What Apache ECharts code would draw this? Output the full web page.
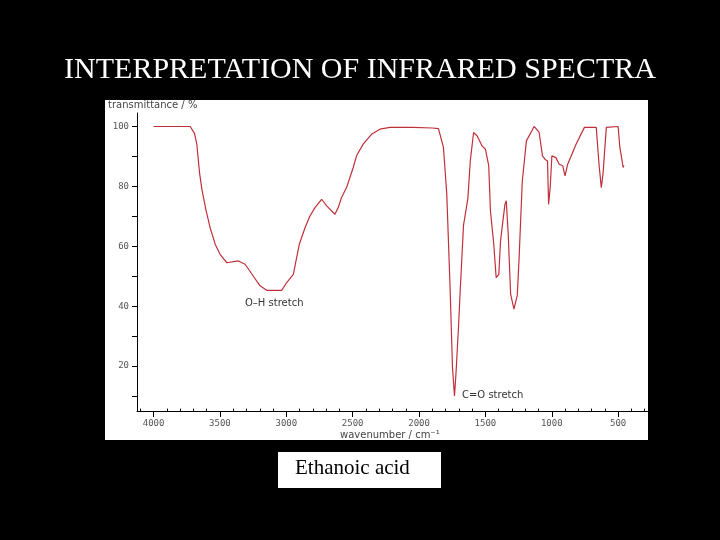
<!DOCTYPE html>
<html><head><meta charset="utf-8">
<script src="https://cdn.jsdelivr.net/npm/echarts@6/dist/echarts.min.js"></script>
<style>html,body{margin:0;background:#000;}#c{width:720px;height:540px;}</style>
</head><body><div id="c"></div>
<script>
const wavenumbers = [4000,3724,3692,3674,3654,3636,3604,3574,3536,3499,3448,3361,3311,3248,3198,3148,3035,2997,2947,2902,2859,2822,2784,2734,2696,2634,2609,2584,2546,2496,2471,2421,2358,2295,2220,2145,2045,1900,1854,1816,1791,1766,1748,1733,1721,1703,1690,1665,1632,1614,1589,1563,1525,1500,1475,1462,1437,1419,1399,1386,1368,1353,1343,1328,1310,1285,1260,1247,1222,1191,1133,1095,1070,1050,1032,1024,1012,999,969,944,918,900,880,817,754,665,644,627,614,589,500,487,462,457];
const transmittance = [100,100,97.7,94,84.6,79,71.8,66.2,60.7,57.3,54.5,55.1,54,50,46.8,45.3,45.3,47.9,50.6,60.7,66.2,70.1,72.9,75.7,73.5,70.7,72.9,76.3,79.6,86.3,90.2,94.1,97.4,99.1,99.7,99.7,99.7,99.5,99.3,93,77.4,46,19.5,10,18,32.8,45,67,76,88.5,98,96.9,93.5,92.4,86.9,71.8,60.7,49.5,50.6,61.8,68.5,74,75.2,64,44,39,43.6,55.3,81.8,95.2,100,98,90.2,89,88.5,74,79.6,90.2,89.6,87.4,86.9,83.5,87.4,94.1,99.7,99.7,87.4,79.6,84.1,99.7,100,93,86.3,87];
const xTicks = [4000,3500,3000,2500,2000,1500,1000,500];
const xMinor = [];
for (let v = 4100; v >= 300; v -= 100) if (v % 500) xMinor.push(v);
const yTicks = [20,40,60,80,100];
const yMinor = [10,30,50,70,90];

const chart = echarts.init(document.getElementById('c'));
const lblStyle = {color:'#555', fontSize:9, fontFamily:'DejaVu Sans Mono', formatter:v=>String(v)};
chart.setOption({
  backgroundColor:'#000',
  animation:false,
  title:{text:'INTERPRETATION OF INFRARED SPECTRA', left:'center', top:50,
    textStyle:{color:'#fff', fontFamily:'Liberation Serif', fontWeight:'normal', fontSize:30}},
  graphic:[
    {type:'rect', z:-10, shape:{x:105,y:100,width:543,height:340}, style:{fill:'#fff'}},
    {type:'text', left:108, top:100, style:{text:'transmittance / %', fill:'#444', font:'10px DejaVu Sans'}},
    {type:'text', left:340, top:430, style:{text:'wavenumber / cm\u207B\u00B9', fill:'#444', font:'10px DejaVu Sans'}},
    {type:'text', left:245, top:298, style:{text:'O\u2013H stretch', fill:'#333', font:'10px DejaVu Sans'}},
    {type:'text', left:462, top:390, style:{text:'C=O stretch', fill:'#333', font:'10px DejaVu Sans'}},
    {type:'rect', shape:{x:278,y:452,width:163,height:36}, style:{fill:'#fff'}},
    {type:'text', left:295, top:458, style:{text:'Ethanoic acid', fill:'#000', font:'21px Liberation Serif'}}
  ],
  grid:{left:137, right:72, top:113, bottom:129},
  xAxis:{type:'value', inverse:true, min:275, max:4125,
    axisLine:{lineStyle:{color:'#000'}},
    axisTick:{show:true, customValues:xTicks, length:6, lineStyle:{color:'#000'}},
    axisLabel:{customValues:xTicks, ...lblStyle, margin:8},
    splitLine:{show:false}},
  yAxis:{type:'value', min:5, max:104.5,
    axisLine:{show:true, lineStyle:{color:'#000'}},
    axisTick:{show:true, customValues:yTicks.concat(yMinor), length:5, lineStyle:{color:'#000'}},
    axisLabel:{customValues:yTicks, ...lblStyle, margin:8},
    splitLine:{show:false}},
  series:[
    {type:'line', data:wavenumbers.map((w,i)=>[w,transmittance[i]]), showSymbol:false,
     lineStyle:{color:'#c0303a', width:1.2}},
    {type:'line', data:[], markLine:{silent:true, symbol:'none', label:{show:false},
      lineStyle:{color:'#000', width:1, type:'solid'},
      data:xMinor.map(v=>[{coord:[v,5]},{coord:[v,5.8]}])}}
  ]
});
</script></body></html>
